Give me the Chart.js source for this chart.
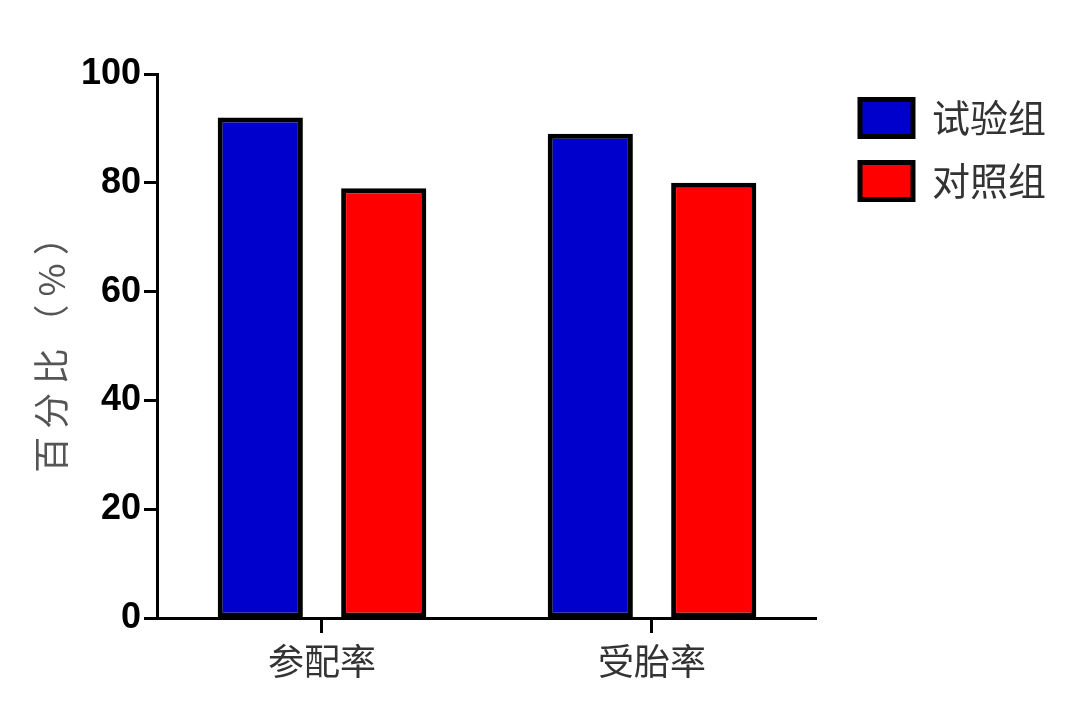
<!DOCTYPE html>
<html>
<head>
<meta charset="utf-8">
<title>参配率 / 受胎率</title>
<script src="https://cdn.jsdelivr.net/npm/chart.js@4/dist/chart.umd.min.js"></script>
<style>
    body { margin: 0; background: #ffffff; }
    #contenedor { width: 1086px; height: 720px; }
</style>
</head>
<body>
<div id="contenedor">
    <canvas id="graficoBarras" width="1086" height="720"></canvas>
</div>
<script>
// Datos del gráfico
const categorias = ['参配率', '受胎率'];
const grupoPrueba = [92, 89];
const grupoControl = [79, 80];
const nombresSeries = ['试验组', '对照组'];
const marcasEjeY = [0, 20, 40, 60, 80, 100];

const fuenteCJK = "'Noto Sans CJK SC', 'Noto Sans', sans-serif";
const fuenteNumeros = "'Liberation Sans Narrow', 'Liberation Sans', Arial, sans-serif";

function mostrarGrafico() {
    const data = {
        labels: categorias,
        datasets: [{
            label: nombresSeries[0],
            data: grupoPrueba,
            backgroundColor: '#0000CC',
            borderColor: '#000000',
            borderWidth: 5,
            borderSkipped: false
        }, {
            label: nombresSeries[1],
            data: grupoControl,
            backgroundColor: '#FF0000',
            borderColor: '#000000',
            borderWidth: 5,
            borderSkipped: false
        }]
    };

    const options = {
        responsive: false,
        animation: false,
        devicePixelRatio: 1,
        layout: {
            padding: { top: 74, right: 30, bottom: 0, left: 0 }
        },
        datasets: {
            bar: {
                categoryPercentage: 0.748,
                barPercentage: 0.69
            }
        },
        plugins: {
            tooltip: { enabled: false },
            legend: {
                position: 'right',
                align: 'start',
                maxWidth: 260,
                labels: {
                    boxWidth: 53,
                    boxHeight: 37,
                    padding: 25,
                    color: '#333333',
                    font: { family: fuenteCJK, size: 38 }
                }
            }
        },
        scales: {
            x: {
                grid: {
                    display: true,
                    drawOnChartArea: false,
                    drawTicks: true,
                    tickLength: 15,
                    tickWidth: 3,
                    tickColor: '#000000',
                    offset: false
                },
                border: { display: true, color: '#000000', width: 3 },
                ticks: {
                    color: '#333333',
                    padding: 7,
                    font: { family: fuenteCJK, size: 36 }
                },
                afterFit: function (escala) { escala.height = 102; }
            },
            y: {
                min: 0,
                max: 100,
                afterBuildTicks: function (escala) {
                    escala.ticks = marcasEjeY.map(v => ({ value: v }));
                },
                grid: {
                    display: true,
                    drawOnChartArea: false,
                    drawTicks: true,
                    tickLength: 13,
                    tickWidth: 3,
                    tickColor: '#000000'
                },
                border: { display: true, color: '#000000', width: 3 },
                ticks: {
                    color: '#000000',
                    padding: 3,
                    font: { family: fuenteNumeros, size: 36, weight: 'bold' }
                },
                title: {
                    display: true,
                    text: '百 分 比 （ % ）',
                    color: '#555555',
                    padding: { top: 30, bottom: 0 },
                    font: { family: fuenteCJK, size: 36 }
                },
                afterFit: function (escala) { escala.width = 157; }
            },
            // Eje vacío para separar la leyenda del área del gráfico
            separador: {
                type: 'linear',
                position: 'right',
                display: true,
                grid: { display: false },
                border: { display: false },
                ticks: { display: false },
                afterFit: function (escala) { escala.width = 18; }
            }
        }
    };

    const ctx = document.getElementById('graficoBarras');
    new Chart(ctx, {
        type: 'bar',
        data: data,
        options: options
    });
}

window.onload = function () {
    mostrarGrafico();
};
</script>
</body>
</html>
